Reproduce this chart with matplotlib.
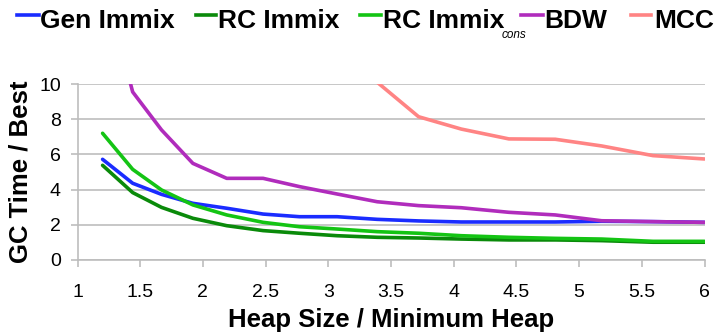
import numpy as np
import matplotlib
matplotlib.use("Agg")
import matplotlib.pyplot as plt
from matplotlib.lines import Line2D

plt.rcParams['font.family'] = ['Liberation Sans', 'DejaVu Sans']

# heap size multiples measured for each collector
heap = [1.2, 1.44, 1.67, 1.92, 2.19, 2.48, 2.77, 3.07, 3.39,
        3.72, 4.06, 4.44, 4.81, 5.18, 5.59, 6.0]

gen_immix = [5.72, 4.36, 3.73, 3.22, 2.94, 2.61, 2.46, 2.46, 2.31,
             2.22, 2.16, 2.16, 2.16, 2.20, 2.18, 2.14]
rc_immix = [5.38, 3.83, 2.99, 2.37, 1.95, 1.67, 1.52, 1.38, 1.29,
            1.25, 1.19, 1.14, 1.14, 1.10, 1.01, 1.01]
rc_immix_cons = [7.20, 5.15, 3.98, 3.13, 2.56, 2.14, 1.89, 1.76, 1.61,
                 1.52, 1.38, 1.29, 1.23, 1.19, 1.06, 1.06]
bdw = [16.0, 9.55, 7.39, 5.49, 4.64, 4.64, 4.17, 3.75, 3.31,
       3.09, 2.97, 2.71, 2.56, 2.23, 2.18, 2.14]
mcc = [None, None, None, None, None, None, None, 13.5, 10.1,
       8.14, 7.44, 6.88, 6.86, 6.48, 5.93, 5.74]

names = ["Gen Immix", "RC Immix", "RC Immix", "BDW", "MCC"]
colors = ["#1a2cff", "#0a8a0a", "#14c414", "#b02cbc", "#ff8484"]
values = [gen_immix, rc_immix, rc_immix_cons, bdw, mcc]

W, H = 714, 333
fig = plt.figure(figsize=(W / 100, H / 100), dpi=100)
ax = fig.add_axes([77.5 / W, 73 / H, 627 / W, 176 / H])

for name, vals, col in zip(names, values, colors):
    y = np.array([np.nan if v is None else v for v in vals], dtype=float)
    ax.plot(heap, y, color=col, lw=2.6, solid_capstyle='round')

ax.set_xlim(1, 6)
ax.set_ylim(0, 10)
ax.set_xticks(np.arange(1, 6.01, 0.5))
ax.set_xticklabels(['1', '1.5', '2', '2.5', '3', '3.5', '4', '4.5', '5', '5.5', '6'])
ax.set_yticks(range(0, 11, 2))
ax.yaxis.grid(True, color='#bdbdbd', lw=1.2)
ax.set_axisbelow(True)
for s in ['top', 'right']:
    ax.spines[s].set_visible(False)
for s in ['left', 'bottom']:
    ax.spines[s].set_color('#bdbdbd')
    ax.spines[s].set_linewidth(1.2)
ax.tick_params(axis='both', colors='#bdbdbd', length=5, width=1.2,
               labelsize=14, labelcolor='black')
ax.tick_params(axis='x', pad=12)
ax.tick_params(axis='y', pad=7)

ax.set_xlabel('Heap Size / Minimum Heap', fontsize=18.5, fontweight='bold', labelpad=5)
ax.set_ylabel('GC Time / Best', fontsize=18.5, fontweight='bold', labelpad=5)

# legend row laid out by hand (pixel positions from the left edge)
handle_x = [(17, 39), (196, 216), (360, 381), (521, 543), (631, 651)]
text_x = [40, 218, 383, 544, 654]
for (x0, x1), tx, name, col in zip(handle_x, text_x, names, colors):
    fig.add_artist(Line2D([x0 / W, x1 / W], [1 - 15 / H, 1 - 15 / H],
                          transform=fig.transFigure, color=col, lw=2.6))
    fig.text(tx / W, 1 - 28 / H, name, fontsize=19, fontweight='bold',
             ha='left', va='baseline')
fig.text(502 / W, 1 - 38 / H, 'cons', fontsize=8.5, style='italic',
         ha='left', va='baseline')

fig.savefig('out.png', dpi=100)
